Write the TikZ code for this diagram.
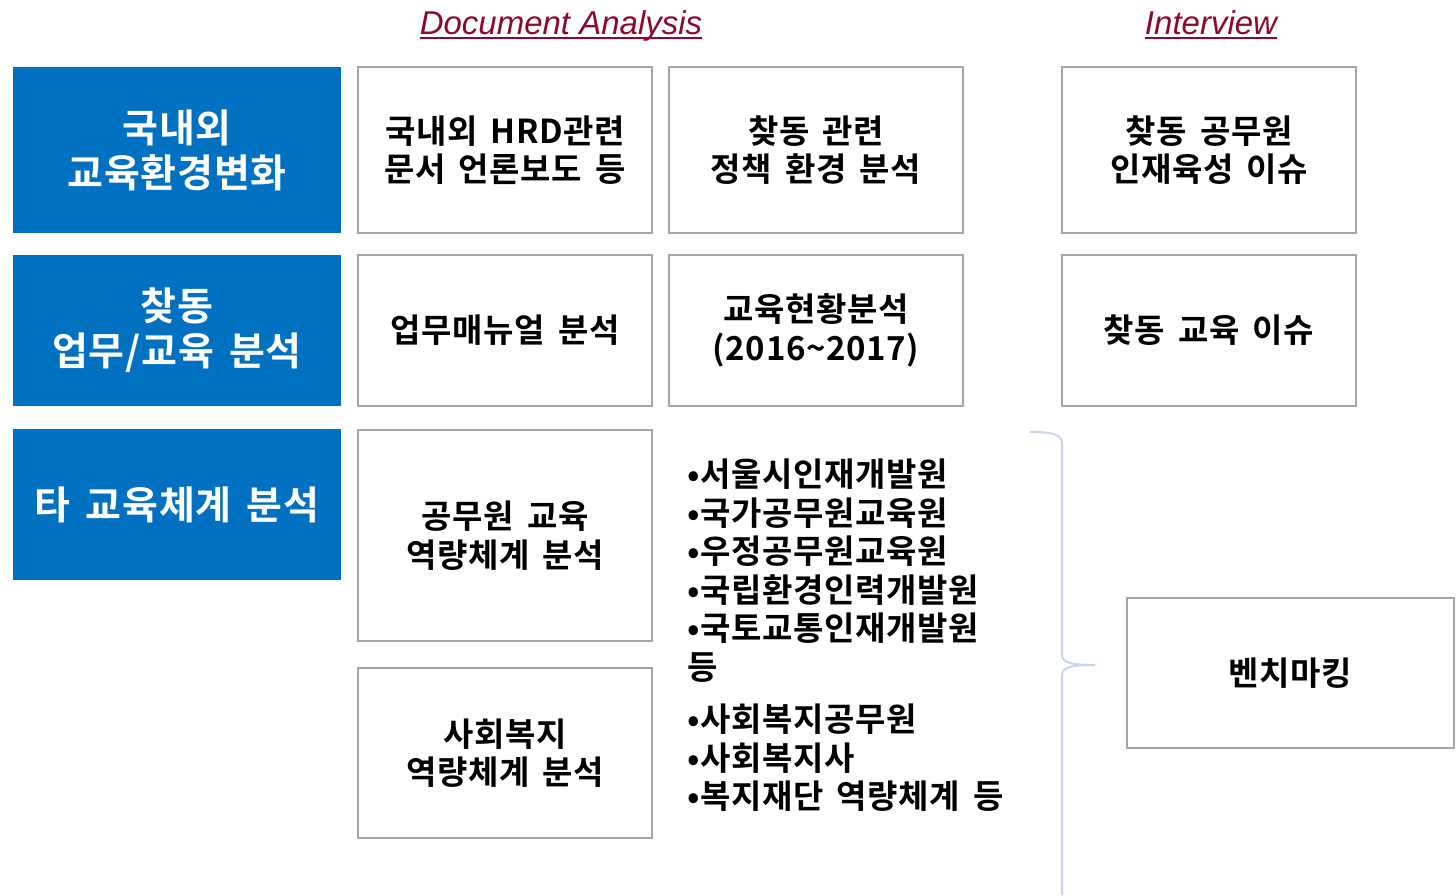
\documentclass[tikz,border=0pt]{standalone}
\usepackage{fontspec}
\setmainfont{Noto Sans CJK KR}[BoldFont={* Bold}]
\newfontfamily\kr{Noto Sans CJK KR Bold}[LetterSpace=2,WordSpace=1.6]
\newfontfamily\titlefont{Liberation Sans}
\definecolor{bluebox}{HTML}{0070C0}
\definecolor{greyline}{HTML}{A6A6A6}
\definecolor{titlered}{HTML}{8A0A2C}
\definecolor{bracecol}{HTML}{C9D3F0}
\tikzset{
  bluecell/.style={fill=bluebox, draw=none, text=white, align=center,
    font=\kr\fontsize{39}{45}\selectfont, inner sep=0pt},
  whitecell/.style={fill=white, draw=greyline, line width=1.2pt, text=black, align=center,
    font=\kr\fontsize{33}{38.5}\selectfont, inner sep=0pt},
  listtext/.style={align=left, anchor=north west, inner sep=0pt, text=black,
    font=\kr\fontsize{33}{38.5}\selectfont},
  titletext/.style={text=titlered, font=\titlefont\itshape\fontsize{33}{38}\selectfont, inner sep=0pt, anchor=base},
  underl/.style={draw=titlered, line width=1.8pt},
  bracestyle/.style={draw=bracecol, line width=2pt}
}
\begin{document}
\begin{tikzpicture}[x=1pt,y=-1pt]
\useasboundingbox (0,0) rectangle (1456,895);
% titles
\node[titletext] (t1) at (561,34) {Document Analysis};
\draw[underl] ([yshift=-4pt]t1.base west) -- ([yshift=-4pt]t1.base east);
\node[titletext] (t2) at (1211,34) {Interview};
\draw[underl] ([yshift=-4pt]t2.base west) -- ([yshift=-4pt]t2.base east);
% blue boxes
\node[bluecell, minimum width=328pt, minimum height=166pt] (b1) at (177,150) {국내외\\교육환경변화};
\node[bluecell, minimum width=328pt, minimum height=151pt] (b2) at (177,330.5) {찾동\\업무/교육 분석};
\node[bluecell, minimum width=328pt, minimum height=151pt] (b3) at (177,504.5) {타 교육체계 분석};
% column 1
\node[whitecell, minimum width=294pt, minimum height=166pt] (c11) at (505,150) {국내외 HRD관련\\문서 언론보도 등};
\node[whitecell, minimum width=294pt, minimum height=151pt] (c12) at (505,330.5) {업무매뉴얼 분석};
\node[whitecell, minimum width=294pt, minimum height=211pt] (c13) at (505,535.5) {공무원 교육\\역량체계 분석};
\node[whitecell, minimum width=294pt, minimum height=170pt] (c14) at (505,753) {사회복지\\역량체계 분석};
% column 2
\node[whitecell, minimum width=294pt, minimum height=166pt] (c21) at (816,150) {찾동 관련\\정책 환경 분석};
\node[whitecell, minimum width=294pt, minimum height=151pt] (c22) at (816,330.5) {교육현황분석\\(2016\textasciitilde 2017)};
% column 3
\node[whitecell, minimum width=294pt, minimum height=166pt] (c31) at (1209,150) {찾동 공무원\\인재육성 이슈};
\node[whitecell, minimum width=294pt, minimum height=151pt] (c32) at (1209,330.5) {찾동 교육 이슈};
% benchmarking
\node[whitecell, minimum width=327pt, minimum height=150pt] (bm) at (1290.5,673) {벤치마킹};
% lists
\node[listtext] (l1) at (687,459) {•서울시인재개발원\\•국가공무원교육원\\•우정공무원교육원\\•국립환경인력개발원\\•국토교통인재개발원\\등};
\node[listtext] (l2) at (687,704) {•사회복지공무원\\•사회복지사\\•복지재단 역량체계 등};
% brace
\coordinate (brtop) at (1030,432);
\coordinate (brtip) at (1095,665);
\coordinate (brbot) at (1062,895);
\draw[bracestyle] (brtop) .. controls (1052,432) and (1062,434) .. (1062,444)
  -- (1062,655) .. controls (1062,663) and (1072,665) .. (brtip)
  .. controls (1072,665) and (1062,667) .. (1062,675) -- (brbot);
\end{tikzpicture}
\end{document}
